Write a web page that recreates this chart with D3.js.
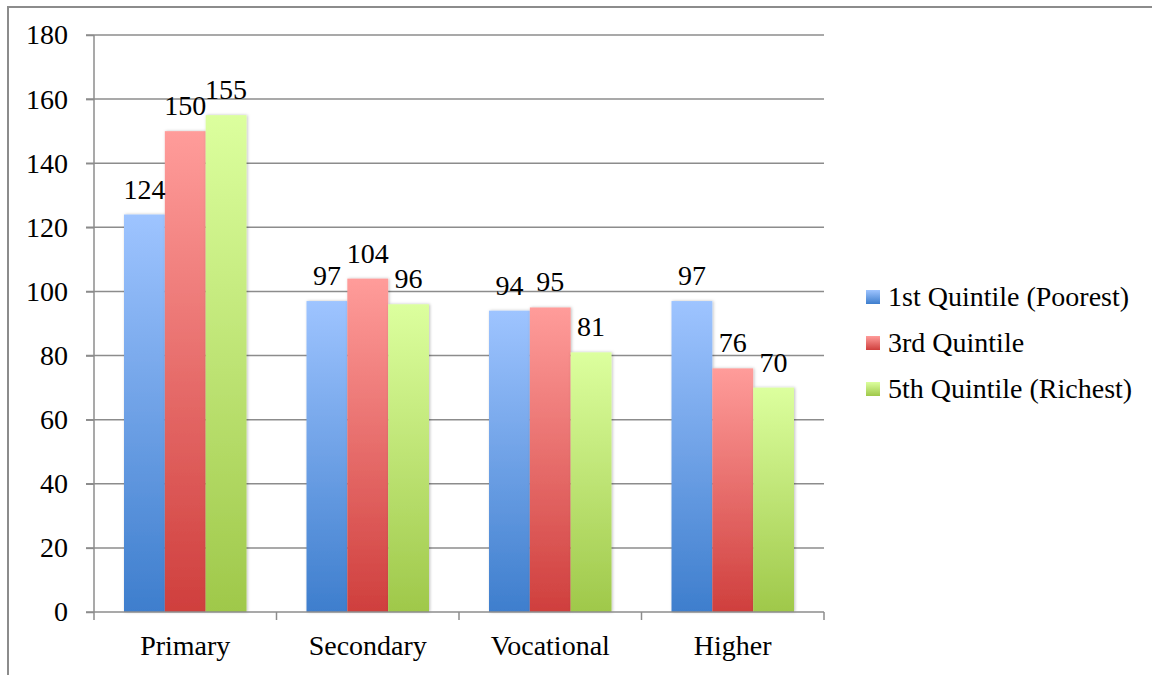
<!DOCTYPE html>
<html>
<head>
<meta charset="utf-8">
<script src="https://cdn.jsdelivr.net/npm/d3@7"></script>
<style>
  html, body { margin: 0; padding: 0; background: #fff; }
  svg { display: block; }
  text { font-family: "Liberation Serif", "DejaVu Serif", serif; fill: #000; }
</style>
</head>
<body>
<svg id="chart" width="1152" height="675"></svg>
<script>
// Education levels and quintile values
const categories = ["Primary", "Secondary", "Vocational", "Higher"];
const seriesNames = ["1st Quintile (Poorest)", "3rd Quintile", "5th Quintile (Richest)"];
const poorest = [124, 97, 94, 97];
const third = [150, 104, 95, 76];
const richest = [155, 96, 81, 70];
const yTicks = [0, 20, 40, 60, 80, 100, 120, 140, 160, 180];

const seriesValues = [poorest, third, richest];
const palette = [
  { top: "#9ec4ff", bottom: "#3e7ecd" },
  { top: "#ff9c9a", bottom: "#cf3f3d" },
  { top: "#dcff9e", bottom: "#9fc84a" }
];
const fontSize = 28;

const svg = d3.select("#chart");
const margin = { left: 94, right: 1152 - 824, top: 35, bottom: 675 - 612 };
const width = 1152 - margin.left - margin.right;
const height = 675 - margin.top - margin.bottom;

// Gradients for bar fills
const defs = svg.append("defs");
palette.forEach((p, i) => {
  const g = defs.append("linearGradient")
    .attr("id", "grad" + i).attr("x1", 0).attr("y1", 0).attr("x2", 0).attr("y2", 1);
  g.append("stop").attr("offset", "0%").attr("stop-color", p.top);
  g.append("stop").attr("offset", "100%").attr("stop-color", p.bottom);
});
const shadow = defs.append("filter").attr("id", "shadow")
  .attr("x", "-20%").attr("y", "-5%").attr("width", "140%").attr("height", "110%");
shadow.append("feDropShadow").attr("dx", 1).attr("dy", 0).attr("stdDeviation", 1.5)
  .attr("flood-color", "#000").attr("flood-opacity", 0.25);

// Frame around the chart area
svg.append("path")
  .attr("d", "M8,675 L8,7 L1152,7")
  .attr("fill", "none").attr("stroke", "#8c8c8c").attr("stroke-width", 2);

const g = svg.append("g").attr("transform", `translate(${margin.left},${margin.top})`);

const x0 = d3.scaleBand().domain(categories).range([0, width]).paddingInner(0).paddingOuter(0);
const x1 = d3.scaleBand().domain(d3.range(seriesNames.length))
  .range([30, x0.bandwidth() - 30]).padding(0);
const y = d3.scaleLinear().domain([0, 180]).range([height, 0]);

// Horizontal gridlines
g.append("g").selectAll("line").data(yTicks.filter(t => t > 0)).join("line")
  .attr("x1", -8).attr("x2", width)
  .attr("y1", d => y(d)).attr("y2", d => y(d))
  .attr("stroke", "#8c8c8c").attr("stroke-width", 1.5);

// Y axis
const yAxis = g.append("g").call(d3.axisLeft(y).tickValues(yTicks).tickSize(8).tickPadding(18));
yAxis.attr("font-size", null).attr("font-family", null);
yAxis.select(".domain").attr("stroke", "#8c8c8c").attr("stroke-width", 1.5).attr("d", `M0,0V${height}`);
yAxis.selectAll(".tick line").attr("stroke", "#8c8c8c").attr("stroke-width", 1.5);
yAxis.selectAll(".tick text").style("font-size", fontSize + "px").attr("fill", "#000");

// Bars
const groups = g.append("g").selectAll("g").data(categories).join("g")
  .attr("transform", d => `translate(${x0(d)},0)`);
groups.selectAll("rect")
  .data((c, ci) => seriesValues.map((vals, si) => ({ si, v: vals[ci] })))
  .join("rect")
  .attr("x", d => x1(d.si))
  .attr("width", x1.bandwidth())
  .attr("y", d => y(d.v))
  .attr("height", d => height - y(d.v))
  .attr("fill", d => `url(#grad${d.si})`)
  .attr("filter", "url(#shadow)");

// Value labels
groups.selectAll("text.val")
  .data((c, ci) => seriesValues.map((vals, si) => ({ si, v: vals[ci] })))
  .join("text").attr("class", "val")
  .attr("x", d => x1(d.si) + x1.bandwidth() / 2)
  .attr("y", d => y(d.v) - 16)
  .attr("text-anchor", "middle")
  .style("font-size", fontSize + "px")
  .text(d => d.v);

// X axis (baseline with category separators)
const xAxis = g.append("g").attr("transform", `translate(0,${height})`);
xAxis.append("line").attr("x1", -8).attr("x2", width).attr("y1", 0).attr("y2", 0)
  .attr("stroke", "#8c8c8c").attr("stroke-width", 1.5);
const bounds = categories.map(c => x0(c)).concat([width]);
xAxis.selectAll("line.sep").data(bounds).join("line").attr("class", "sep")
  .attr("x1", d => d).attr("x2", d => d).attr("y1", 0).attr("y2", 8)
  .attr("stroke", "#8c8c8c").attr("stroke-width", 1.5);
xAxis.selectAll("text").data(categories).join("text")
  .attr("x", d => x0(d) + x0.bandwidth() / 2)
  .attr("y", 43)
  .attr("text-anchor", "middle")
  .style("font-size", fontSize + "px")
  .text(d => d);

// Legend
const legend = svg.append("g").attr("transform", "translate(866,297)");
const items = legend.selectAll("g").data(seriesNames).join("g")
  .attr("transform", (d, i) => `translate(0,${i * 46})`);
items.append("rect").attr("x", 0).attr("y", -7).attr("width", 14).attr("height", 14)
  .attr("fill", (d, i) => `url(#grad${i})`);
items.append("text").attr("x", 22).attr("y", 9).style("font-size", fontSize + "px").text(d => d);
</script>
</body>
</html>
